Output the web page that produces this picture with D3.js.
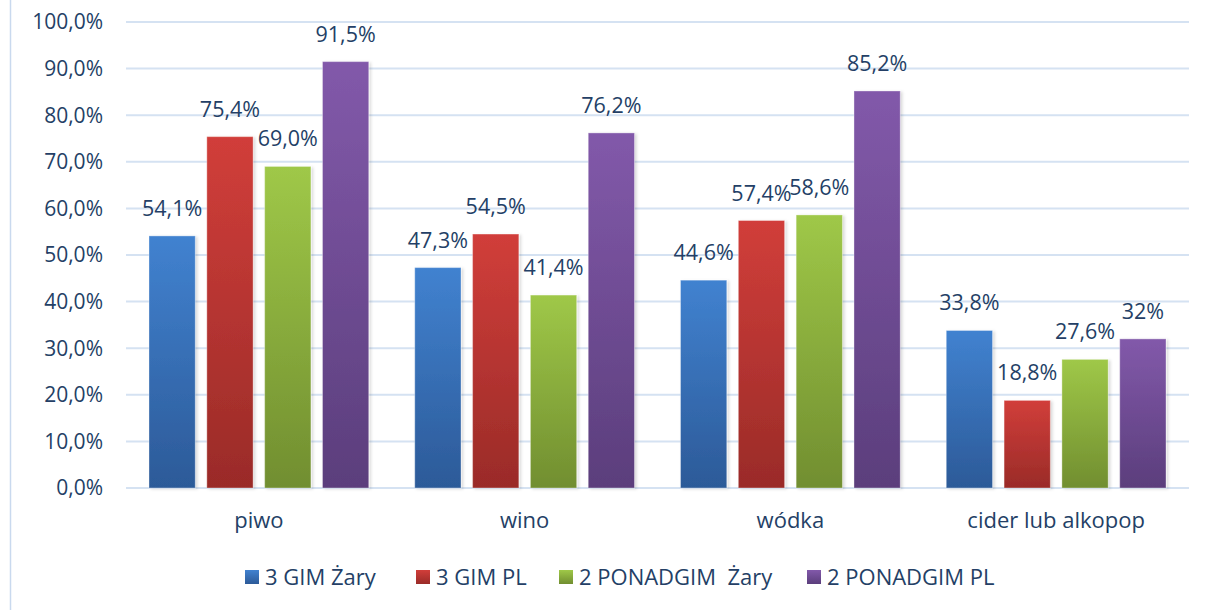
<!DOCTYPE html>
<html>
<head>
<meta charset="utf-8">
<script src="https://cdn.jsdelivr.net/npm/d3@7"></script>
<style>
	body{margin:0;background:#fff;}
	text{font-family:"Open Sans", Lato, sans-serif;fill:#243f66;}
</style>
</head>
<body>
<svg id="chart" width="1208" height="610"></svg>
<script>
var categories = ["piwo", "wino", "wódka", "cider lub alkopop"];
var seriesNames = ["3 GIM Żary", "3 GIM PL", "2 PONADGIM  Żary", "2 PONADGIM PL"];
var gimZary = [54.1, 47.3, 44.6, 33.8];
var gimPL = [75.4, 54.5, 57.4, 18.8];
var ponadZary = [69.0, 41.4, 58.6, 27.6];
var ponadPL = [91.5, 76.2, 85.2, 32];
var valueLabels = [
	["54,1%", "47,3%", "44,6%", "33,8%"],
	["75,4%", "54,5%", "57,4%", "18,8%"],
	["69,0%", "41,4%", "58,6%", "27,6%"],
	["91,5%", "76,2%", "85,2%", "32%"]
];
var yTicks = [0, 10, 20, 30, 40, 50, 60, 70, 80, 90, 100];

var colors = [
	{top:"#4182d0", bottom:"#2c5a98"},
	{top:"#d13e3a", bottom:"#9a2b28"},
	{top:"#9fc848", bottom:"#718e30"},
	{top:"#8259aa", bottom:"#5b3e7c"}
];

var series = [gimZary, gimPL, ponadZary, ponadPL];

var svg = d3.select("#chart");
var plotLeft = 126, plotRight = 1189, plotTop = 22, plotBottom = 488;

var x = d3.scaleBand().domain(categories).range([plotLeft, plotRight]);
var xs = d3.scaleBand().domain(d3.range(4)).range([23, x.bandwidth() - 23]).paddingInner(0.2);
var y = d3.scaleLinear().domain([0, 100]).range([plotBottom, plotTop]);

var defs = svg.append("defs");
colors.forEach(function(c, i){
	var g = defs.append("linearGradient").attr("id", "grad" + i)
		.attr("x1", 0).attr("y1", 0).attr("x2", 0).attr("y2", 1);
	g.append("stop").attr("offset", "0%").attr("stop-color", c.top);
	g.append("stop").attr("offset", "100%").attr("stop-color", c.bottom);
});
defs.append("filter").attr("id", "shadow").attr("x", "-20%").attr("y", "-5%")
	.attr("width", "140%").attr("height", "110%")
	.append("feDropShadow").attr("dx", 2).attr("dy", 1).attr("stdDeviation", 1.5)
	.attr("flood-color", "#000").attr("flood-opacity", 0.15);

// left frame line
svg.append("line").attr("x1", 10.5).attr("x2", 10.5).attr("y1", 0).attr("y2", 610)
	.attr("stroke", "#c9d9ee").attr("stroke-width", 1.5);

// grid lines
svg.append("g").selectAll("line").data(yTicks).enter().append("line")
	.attr("x1", plotLeft).attr("x2", plotRight)
	.attr("y1", function(d){ return y(d); }).attr("y2", function(d){ return y(d); })
	.attr("stroke", "#d5e2f2").attr("stroke-width", 2);

// y labels
svg.append("g").selectAll("text").data(yTicks).enter().append("text")
	.attr("x", 103).attr("y", function(d){ return y(d); })
	.attr("dy", "0.35em").attr("text-anchor", "end")
	.style("font-size", "21px")
	.text(function(d){ return d3.format(".1f")(d).replace(".", ",") + "%"; });

// bars
series.forEach(function(vals, si){
	var g = svg.append("g");
	g.selectAll("rect").data(vals).enter().append("rect")
		.attr("x", function(d, i){ return x(categories[i]) + xs(si); })
		.attr("width", xs.bandwidth())
		.attr("y", function(d){ return y(d); })
		.attr("height", function(d){ return y(0) - y(d); })
		.attr("fill", "url(#grad" + si + ")")
		.attr("filter", "url(#shadow)")
		.attr("stroke", "rgba(255,255,255,0.35)").attr("stroke-width", 1);
	g.selectAll("text").data(vals).enter().append("text")
		.attr("x", function(d, i){ return x(categories[i]) + xs(si) + xs.bandwidth() / 2; })
		.attr("y", function(d){ return y(d) - 20; })
		.attr("text-anchor", "middle")
		.style("font-size", "21.5px")
		.text(function(d, i){ return valueLabels[si][i]; });
});

// category labels
svg.append("g").selectAll("text").data(categories).enter().append("text")
	.attr("x", function(d){ return x(d) + x.bandwidth() / 2; })
	.attr("y", 528)
	.attr("text-anchor", "middle")
	.style("font-size", "22px")
	.text(function(d){ return d; });

// legend
var legendX = [245, 416, 559, 807];
var legend = svg.append("g").selectAll("g").data(seriesNames).enter().append("g")
	.attr("transform", function(d, i){ return "translate(" + legendX[i] + ",577)"; });
legend.append("rect").attr("x", 0).attr("y", -7).attr("width", 14).attr("height", 14)
	.attr("fill", function(d, i){ return "url(#grad" + i + ")"; });
legend.append("text").attr("x", 20).attr("y", 0).attr("dy", "0.35em")
	.style("font-size", "22px").style("white-space", "pre")
	.text(function(d){ return d; });
</script>
</body>
</html>
